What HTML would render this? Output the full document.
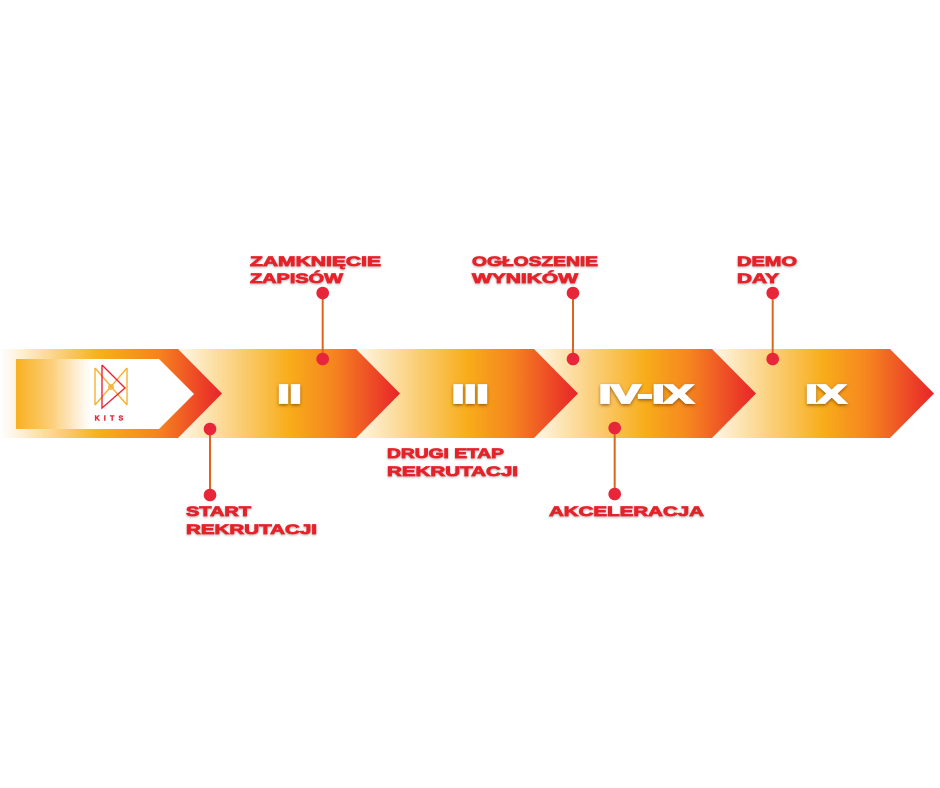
<!DOCTYPE html>
<html>
<head>
<meta charset="utf-8">
<style>
html,body{margin:0;padding:0;background:#ffffff;}
svg{display:block;}
</style>
</head>
<body>
<svg width="940" height="788" viewBox="0 0 940 788" xmlns="http://www.w3.org/2000/svg">
<defs>
  <linearGradient id="g0" gradientUnits="userSpaceOnUse" x1="0" y1="0" x2="222" y2="0">
    <stop offset="0" stop-color="#ffffff"/>
    <stop offset="0.1" stop-color="#fdefd2"/>
    <stop offset="0.45" stop-color="#f9ae1c"/>
    <stop offset="0.72" stop-color="#f5821f"/>
    <stop offset="1" stop-color="#e8232a"/>
  </linearGradient>
  <linearGradient id="g1" gradientUnits="userSpaceOnUse" x1="178" y1="0" x2="400" y2="0">
    <stop offset="0" stop-color="#fef7e8"/>
    <stop offset="0.5" stop-color="#f8ad1a"/>
    <stop offset="0.7" stop-color="#f5851f"/>
    <stop offset="1" stop-color="#e8232a"/>
  </linearGradient>
  <linearGradient id="g2" gradientUnits="userSpaceOnUse" x1="356" y1="0" x2="578" y2="0">
    <stop offset="0" stop-color="#fef7e8"/>
    <stop offset="0.5" stop-color="#f8ad1a"/>
    <stop offset="0.7" stop-color="#f5851f"/>
    <stop offset="1" stop-color="#e8232a"/>
  </linearGradient>
  <linearGradient id="g3" gradientUnits="userSpaceOnUse" x1="534" y1="0" x2="756" y2="0">
    <stop offset="0" stop-color="#fef7e8"/>
    <stop offset="0.5" stop-color="#f8ad1a"/>
    <stop offset="0.7" stop-color="#f5851f"/>
    <stop offset="1" stop-color="#e8232a"/>
  </linearGradient>
  <linearGradient id="g4" gradientUnits="userSpaceOnUse" x1="712" y1="0" x2="934" y2="0">
    <stop offset="0" stop-color="#fef7e8"/>
    <stop offset="0.5" stop-color="#f8ad1a"/>
    <stop offset="0.7" stop-color="#f5851f"/>
    <stop offset="1" stop-color="#e8232a"/>
  </linearGradient>
  <linearGradient id="gin" gradientUnits="userSpaceOnUse" x1="16" y1="0" x2="194" y2="0">
    <stop offset="0" stop-color="#f9b020"/>
    <stop offset="0.2" stop-color="#fbcf7a"/>
    <stop offset="0.35" stop-color="#fef0da"/>
    <stop offset="0.42" stop-color="#ffffff"/>
    <stop offset="1" stop-color="#ffffff"/>
  </linearGradient>
  <filter id="bigsh" x="-20%" y="-40%" width="140%" height="180%">
    <feDropShadow dx="0" dy="1.5" stdDeviation="1.6" flood-color="#6a2f00" flood-opacity="0.65"/>
  </filter>
  <filter id="lblsh" x="-10%" y="-40%" width="120%" height="180%">
    <feDropShadow dx="0" dy="1" stdDeviation="1" flood-color="#000000" flood-opacity="0.3"/>
  </filter>
</defs>

<!-- chevrons drawn right to left so left ones overlap -->
<polygon points="712,349 890,349 934,393.5 890,438 712,438" fill="url(#g4)"/>
<polygon points="534,349 712,349 756,393.5 712,438 534,438" fill="url(#g3)"/>
<polygon points="356,349 534,349 578,393.5 534,438 356,438" fill="url(#g2)"/>
<polygon points="178,349 356,349 400,393.5 356,438 178,438" fill="url(#g1)"/>
<polygon points="0,349 178,349 222,393.5 178,438 0,438" fill="url(#g0)"/>
<polygon points="16,359 159,359 194,394 159,429 16,429" fill="url(#gin)"/>

<!-- KITS logo -->
<g fill="none" stroke-width="1.4">
  <g stroke="#f6b133">
    <line x1="95" y1="368" x2="95" y2="405"/>
    <line x1="127" y1="368" x2="127" y2="405"/>
    <line x1="95" y1="368" x2="127" y2="405"/>
    <line x1="127" y1="368" x2="95" y2="405"/>
    <circle cx="111" cy="387" r="2.2"/>
  </g>
  <polyline stroke="#e8263a" points="102,365 125,388 102,408 102,365"/>
</g>
<text x="111" y="420.5" text-anchor="middle" font-family="Liberation Sans, sans-serif" font-weight="bold" font-size="7" fill="#e8263a" stroke="#e8263a" stroke-width="0.4" letter-spacing="4.2">KITS</text>

<!-- big numerals -->
<g font-family="Liberation Sans, sans-serif" font-weight="bold" font-size="26" fill="#ffffff" stroke="#ffffff" stroke-width="1.8" filter="url(#bigsh)">
  <text x="277.5" y="403" textLength="24" lengthAdjust="spacingAndGlyphs">II</text>
  <text x="452" y="403" textLength="36.5" lengthAdjust="spacingAndGlyphs">III</text>
  <text x="599" y="403" textLength="94.5" lengthAdjust="spacingAndGlyphs">IV-IX</text>
  <text x="805.5" y="403" textLength="40.5" lengthAdjust="spacingAndGlyphs">IX</text>
</g>

<!-- connectors -->
<g stroke="#e0651c" stroke-width="2">
  <line x1="322.7" y1="293" x2="322.7" y2="359"/>
  <line x1="210" y1="429" x2="210" y2="495"/>
  <line x1="573" y1="293" x2="573" y2="359"/>
  <line x1="614.7" y1="428" x2="614.7" y2="494"/>
  <line x1="772.7" y1="293" x2="772.7" y2="359"/>
</g>
<g fill="#e8263a">
  <circle cx="322.7" cy="293" r="6.3"/>
  <circle cx="322.7" cy="359" r="6.3"/>
  <circle cx="210" cy="429" r="6.3"/>
  <circle cx="210" cy="495" r="6.3"/>
  <circle cx="573" cy="293" r="6.3"/>
  <circle cx="573" cy="359" r="6.3"/>
  <circle cx="614.7" cy="428" r="6.3"/>
  <circle cx="614.7" cy="494" r="6.3"/>
  <circle cx="772.7" cy="293" r="6.3"/>
  <circle cx="772.7" cy="359" r="6.3"/>
</g>

<!-- labels -->
<g font-family="Liberation Sans, sans-serif" font-weight="bold" font-size="14" fill="#e5232b" stroke="#e5232b" stroke-width="0.8" filter="url(#lblsh)">
  <text x="250" y="266" textLength="131" lengthAdjust="spacingAndGlyphs">ZAMKNIĘCIE</text>
  <text x="250" y="283" textLength="93" lengthAdjust="spacingAndGlyphs">ZAPISÓW</text>
  <text x="186" y="516" textLength="65" lengthAdjust="spacingAndGlyphs">START</text>
  <text x="186" y="534" textLength="131" lengthAdjust="spacingAndGlyphs">REKRUTACJI</text>
  <text x="387" y="458" textLength="117" lengthAdjust="spacingAndGlyphs">DRUGI ETAP</text>
  <text x="387" y="476" textLength="131" lengthAdjust="spacingAndGlyphs">REKRUTACJI</text>
  <text x="472" y="266" textLength="126" lengthAdjust="spacingAndGlyphs">OGŁOSZENIE</text>
  <text x="472" y="283" textLength="106" lengthAdjust="spacingAndGlyphs">WYNIKÓW</text>
  <text x="737" y="266" textLength="60" lengthAdjust="spacingAndGlyphs">DEMO</text>
  <text x="737" y="283" textLength="42" lengthAdjust="spacingAndGlyphs">DAY</text>
  <text x="549" y="516" textLength="155" lengthAdjust="spacingAndGlyphs">AKCELERACJA</text>
</g>
</svg>
</body>
</html>
